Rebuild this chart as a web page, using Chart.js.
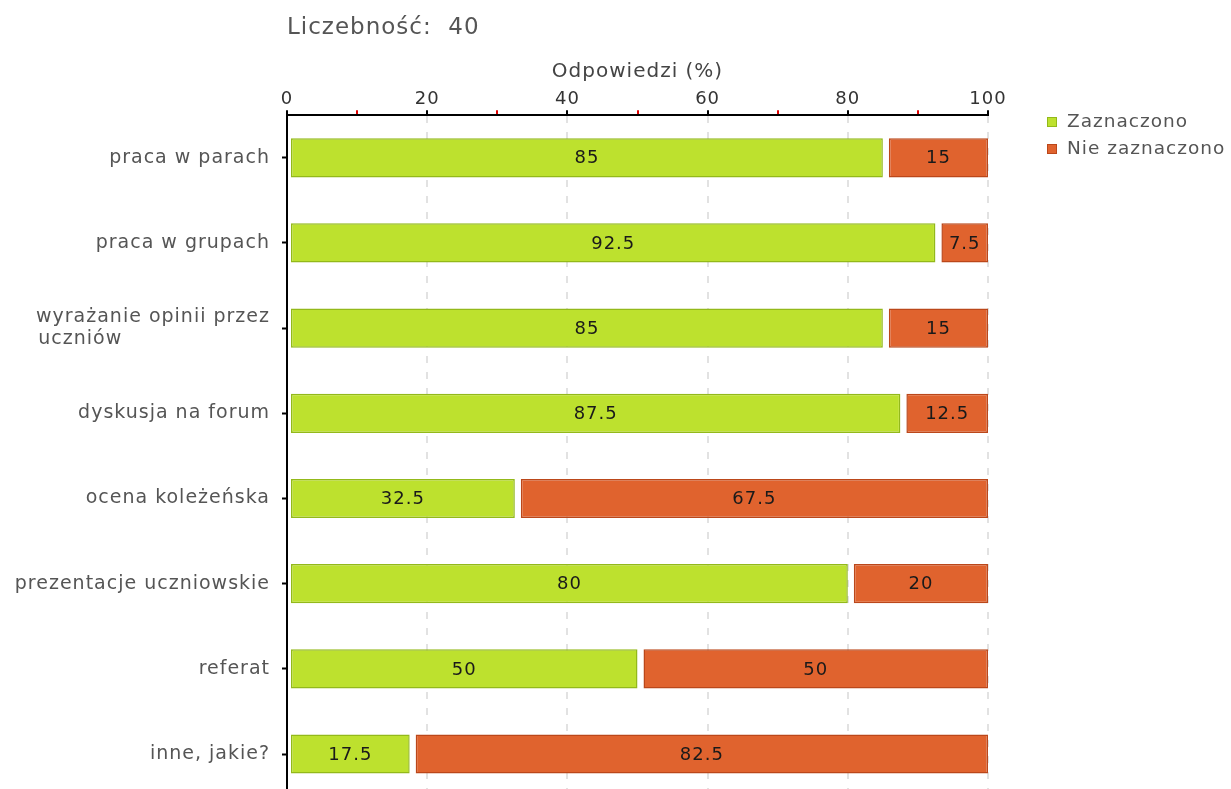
<!DOCTYPE html>
<html>
<head>
<meta charset="utf-8">
<script src="https://cdn.jsdelivr.net/npm/chart.js@4"></script>
<style>
  html, body { margin: 0; padding: 0; background: #fff; overflow: hidden; }
  #wrap { position: relative; width: 1231px; height: 820px; }
  #legend { position: absolute; left: 1047px; top: 109px; margin: 0; padding: 0; list-style: none;
            font-family: "DejaVu Sans", Verdana, sans-serif; font-size: 18.5px; letter-spacing: 1px; color: #555; }
  #legend li { height: 27px; line-height: 24px; white-space: nowrap; }
  #legend span { display: inline-block; width: 10px; height: 10px; margin-right: 10px; vertical-align: 0px; }
</style>
</head>
<body>
<div id="wrap"><canvas id="chart"></canvas><ul id="legend"></ul></div>
<script>
// dane wykresu
const categories = [
  'praca w parach',
  'praca w grupach',
  ['wyrażanie opinii przez', 'uczniów' + ' '.repeat(21)],
  'dyskusja na forum',
  'ocena koleżeńska',
  'prezentacje uczniowskie',
  'referat',
  'inne, jakie?'
];
const seriesNames = ['Zaznaczono', 'Nie zaznaczono'];
const checkedValues = [85, 92.5, 85, 87.5, 32.5, 80, 50, 17.5];
const uncheckedValues = [15, 7.5, 15, 12.5, 67.5, 20, 50, 82.5];
const xTicks = [0, 20, 40, 60, 80, 100];
const sampleSize = 40;

const FONT = '"DejaVu Sans", Verdana, sans-serif';
const GREEN = '#bde12e';
const GREEN_BORDER = '#93b91a';
const ORANGE = '#e0632e';
const ORANGE_BORDER = '#bb471a';

// rozstrzelony tekst jak w oryginale
const spacing = {
  id: 'spacing',
  beforeLayout(chart) { chart.ctx.letterSpacing = '1px'; },
  beforeDraw(chart) { chart.ctx.letterSpacing = '1px'; }
};

// odstęp między segmentami słupka
const segmentGap = {
  id: 'segmentGap',
  afterDatasetUpdate(chart, args) {
    const gap = args.index === 0 ? 3 : 6;
    args.meta.data.forEach(el => { el.base += gap; });
  }
};

// wartości w środku słupków
const barValues = {
  id: 'barValues',
  afterDatasetsDraw(chart) {
    const ctx = chart.ctx;
    ctx.save();
    ctx.font = '18px ' + FONT;
    ctx.fillStyle = '#1a1a1a';
    ctx.textAlign = 'center';
    ctx.textBaseline = 'middle';
    chart.data.datasets.forEach((ds, i) => {
      chart.getDatasetMeta(i).data.forEach((el, j) => {
        const cx = (el.x + el.base) / 2;
        ctx.fillText(String(ds.data[j]), cx, el.y + 1);
      });
    });
    ctx.restore();
  }
};

const chart = new Chart(document.getElementById('chart'), {
  type: 'bar',
  data: {
    labels: categories,
    datasets: [
      {
        label: seriesNames[0],
        data: checkedValues,
        backgroundColor: GREEN,
        borderColor: GREEN_BORDER,
        borderWidth: 1.5,
        borderSkipped: false
      },
      {
        label: seriesNames[1],
        data: uncheckedValues,
        backgroundColor: ORANGE,
        borderColor: ORANGE_BORDER,
        borderWidth: 1.5,
        borderSkipped: false
      }
    ]
  },
  options: {
    indexAxis: 'y',
    responsive: true,
    maintainAspectRatio: false,
    animation: false,
    events: [],
    layout: { padding: { left: 0, right: 243, top: 10, bottom: 4 } },
    datasets: {
      bar: { categoryPercentage: 1, barPercentage: 0.46 }
    },
    scales: {
      x: {
        position: 'top',
        stacked: true,
        min: 0,
        max: 100,
        ticks: {
          stepSize: 10,
          autoSkip: false,
          maxRotation: 0,
          padding: 0,
          color: '#333',
          font: { family: FONT, size: 18 },
          callback: (v) => xTicks.includes(v) ? String(v) : ''
        },
        grid: {
          drawTicks: true,
          tickLength: 5,
          lineWidth: 2,
          color: (c) => (c.tick && c.tick.value % 20 === 0 && c.tick.value !== 0) ? '#e2e2e2' : 'rgba(0,0,0,0)',
          tickColor: (c) => (c.tick && c.tick.value % 20 === 0) ? '#000' : '#e00000',
          tickWidth: 2
        },
        border: { display: true, color: '#000', width: 2, dash: [7, 9] },
        title: {
          display: true,
          text: 'Odpowiedzi (%)',
          color: '#444',
          font: { family: FONT, size: 20 },
          padding: { top: 0, bottom: 5 }
        }
      },
      y: {
        stacked: true,
        afterFit: (scale) => { scale.width = 287; },
        ticks: {
          color: '#555',
          padding: 12,
          font: { family: FONT, size: 19 }
        },
        grid: {
          offset: false,
          drawOnChartArea: false,
          drawTicks: true,
          tickLength: 5,
          tickColor: '#000',
          tickWidth: 2
        },
        border: { display: true, color: '#000', width: 2 }
      }
    },
    plugins: {
      tooltip: { enabled: false },
      legend: { display: false },
      title: {
        display: true,
        text: 'Liczebność:  ' + sampleSize,
        align: 'start',
        fullSize: false,
        color: '#555',
        font: { family: FONT, size: 23, weight: 'normal' },
        padding: { top: 4, bottom: 18 }
      }
    }
  },
  plugins: [spacing, segmentGap, barValues]
});

// legenda w HTML, budowana z serii
const legend = document.getElementById('legend');
chart.data.datasets.forEach(ds => {
  const li = document.createElement('li');
  const box = document.createElement('span');
  box.style.background = ds.backgroundColor;
  box.style.boxShadow = 'inset 0 0 0 1px ' + ds.borderColor;
  li.appendChild(box);
  li.appendChild(document.createTextNode(ds.label));
  legend.appendChild(li);
});
</script>
</body>
</html>
